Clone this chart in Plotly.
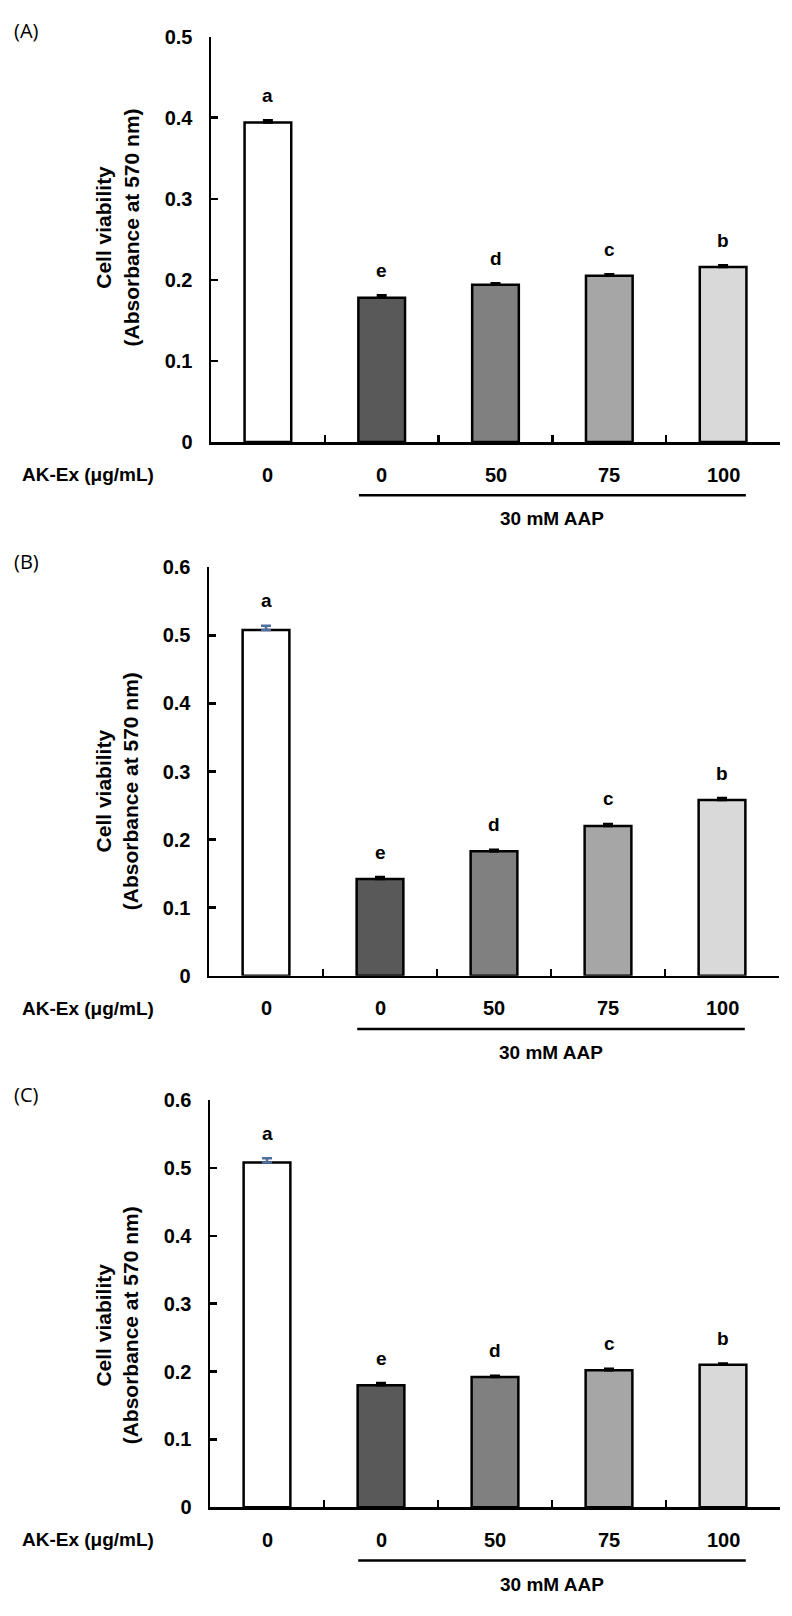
import plotly.graph_objects as go

W, H = 792, 1616

# ---- data ----
dose_labels = ["0", "0", "50", "75", "100"]
bar_colors = ["#ffffff", "#595959", "#808080", "#a6a6a6", "#d9d9d9"]
panel_names = ["(A)", "(B)", "(C)"]

values_A = [0.394, 0.178, 0.194, 0.205, 0.216]
errors_A = [0.003, 0.003, 0.002, 0.002, 0.002]
letters_A = ["a", "e", "d", "c", "b"]

values_B = [0.508, 0.142, 0.183, 0.220, 0.258]
errors_B = [0.006, 0.003, 0.002, 0.003, 0.003]
letters_B = ["a", "e", "d", "c", "b"]

values_C = [0.508, 0.180, 0.192, 0.202, 0.210]
errors_C = [0.006, 0.003, 0.002, 0.002, 0.002]
letters_C = ["a", "e", "d", "c", "b"]

y_max = [0.5, 0.6, 0.6]
first_err_color = ["#000000", "#4f6f9f", "#4f6f9f"]

x_title = "AK-Ex (μg/mL)"
group_label = "30 mM AAP"
y_title = "Cell viability<br>(Absorbance at 570 nm)"

# ---- layout geometry (pixels) ----
panels_px = [  # (x_left, x_right, y_top, y_bottom)
    (211, 780, 26, 437),
    (209, 779, 564, 978),
    (210, 780, 1104, 1517),
]
title_offsets = [-12, 20, 22]

FONT = "Arial, Liberation Sans, sans-serif"

fig = go.Figure()
annotations = []
shapes = []

panel_data = [
    (values_A, errors_A, letters_A),
    (values_B, errors_B, letters_B),
    (values_C, errors_C, letters_C),
]

xc = [0.5, 1.5, 2.5, 3.5, 4.5]


def bold(size):
    return dict(family=FONT, size=size, color="black", weight=700)


for i, ((vals, errs, lets), (xl, xr, yt, yb)) in enumerate(zip(panel_data, panels_px)):
    n = "" if i == 0 else str(i + 1)
    xa, ya = "x" + n, "y" + n
    fig.add_trace(go.Bar(
        x=xc, y=vals, width=0.41, xaxis=xa, yaxis=ya,
        marker=dict(color=bar_colors, line=dict(color="black", width=2.5)),
        showlegend=False, hoverinfo="skip",
    ))
    fig.add_trace(go.Scatter(
        x=xc[1:], y=vals[1:], xaxis=xa, yaxis=ya, mode="markers",
        marker=dict(size=1, color="rgba(0,0,0,0)"),
        error_y=dict(type="data", array=errs[1:], symmetric=False, arrayminus=[0] * 4,
                     color="black", thickness=2.5, width=5),
        showlegend=False, hoverinfo="skip",
    ))
    fig.add_trace(go.Scatter(
        x=xc[:1], y=vals[:1], xaxis=xa, yaxis=ya, mode="markers",
        marker=dict(size=1, color="rgba(0,0,0,0)"),
        error_y=dict(type="data", array=errs[:1], symmetric=False, arrayminus=[0],
                     color=first_err_color[i], thickness=2.5, width=5),
        showlegend=False, hoverinfo="skip",
    ))

    xdom = [xl / W, xr / W]
    ydom = [1 - yb / H, 1 - yt / H]
    fig.update_layout(**{
        "xaxis" + n: dict(
            domain=xdom, range=[0, 5], showline=True, linecolor="black", linewidth=2.5,
            ticks="inside", tickvals=[1, 2, 3, 4, 5], ticklen=7, tickwidth=2.5,
            tickcolor="black", showticklabels=False, showgrid=False, zeroline=False,
            anchor=ya, fixedrange=True,
        ),
        "yaxis" + n: dict(
            domain=ydom, range=[0, y_max[i]], dtick=0.1, showline=True, linecolor="black",
            linewidth=2.5, ticks="inside", ticklen=7, tickwidth=2.5, tickcolor="black",
            showgrid=False, zeroline=False, anchor=xa, ticklabelstandoff=12,
            tickfont=bold(20), fixedrange=True,
        ),
    })

    for xv, v, e, l in zip(xc, vals, errs, lets):
        annotations.append(dict(
            x=xv, y=v + e, xref=xa, yref=ya, text=l, showarrow=False,
            yanchor="middle", yshift=25, font=bold(19),
        ))
    for xv, lab in zip(xc, dose_labels):
        annotations.append(dict(
            x=xv, y=1 - (yb + 33) / H, xref=xa, yref="paper", text=lab, showarrow=False,
            yanchor="middle", font=bold(20),
        ))
    annotations.append(dict(
        x=156 / W, y=1 - (yb + 33) / H, xref="paper", yref="paper", text=x_title,
        showarrow=False, xanchor="right", yanchor="middle", font=bold(19),
    ))
    shapes.append(dict(
        type="line", xref=xa, yref="paper", x0=1.3, x1=4.7,
        y0=1 - (yb + 54) / H, y1=1 - (yb + 54) / H,
        line=dict(color="black", width=2.5),
    ))
    annotations.append(dict(
        x=3.0, y=1 - (yb + 78) / H, xref=xa, yref="paper", text=group_label,
        showarrow=False, yanchor="middle", font=bold(19),
    ))
    annotations.append(dict(
        x=117 / W, y=1 - ((yt + yb) / 2 + title_offsets[i]) / H, xref="paper", yref="paper",
        text=y_title, showarrow=False, textangle=-90, xanchor="center", yanchor="middle",
        font=bold(21),
    ))
    annotations.append(dict(
        x=12 / W, y=1 - (yt - 6) / H, xref="paper", yref="paper", text=panel_names[i],
        showarrow=False, xanchor="left", yanchor="middle",
        font=dict(family="Open Sans, sans-serif", size=20, color="black"),
    ))

fig.update_layout(
    width=W, height=H, margin=dict(l=0, r=0, t=0, b=0),
    paper_bgcolor="white", plot_bgcolor="white",
    annotations=annotations, shapes=shapes, bargap=0,
)

fig.write_html("out.html", config={"displayModeBar": False, "staticPlot": True},
               post_script="document.body.style.margin='0';")
